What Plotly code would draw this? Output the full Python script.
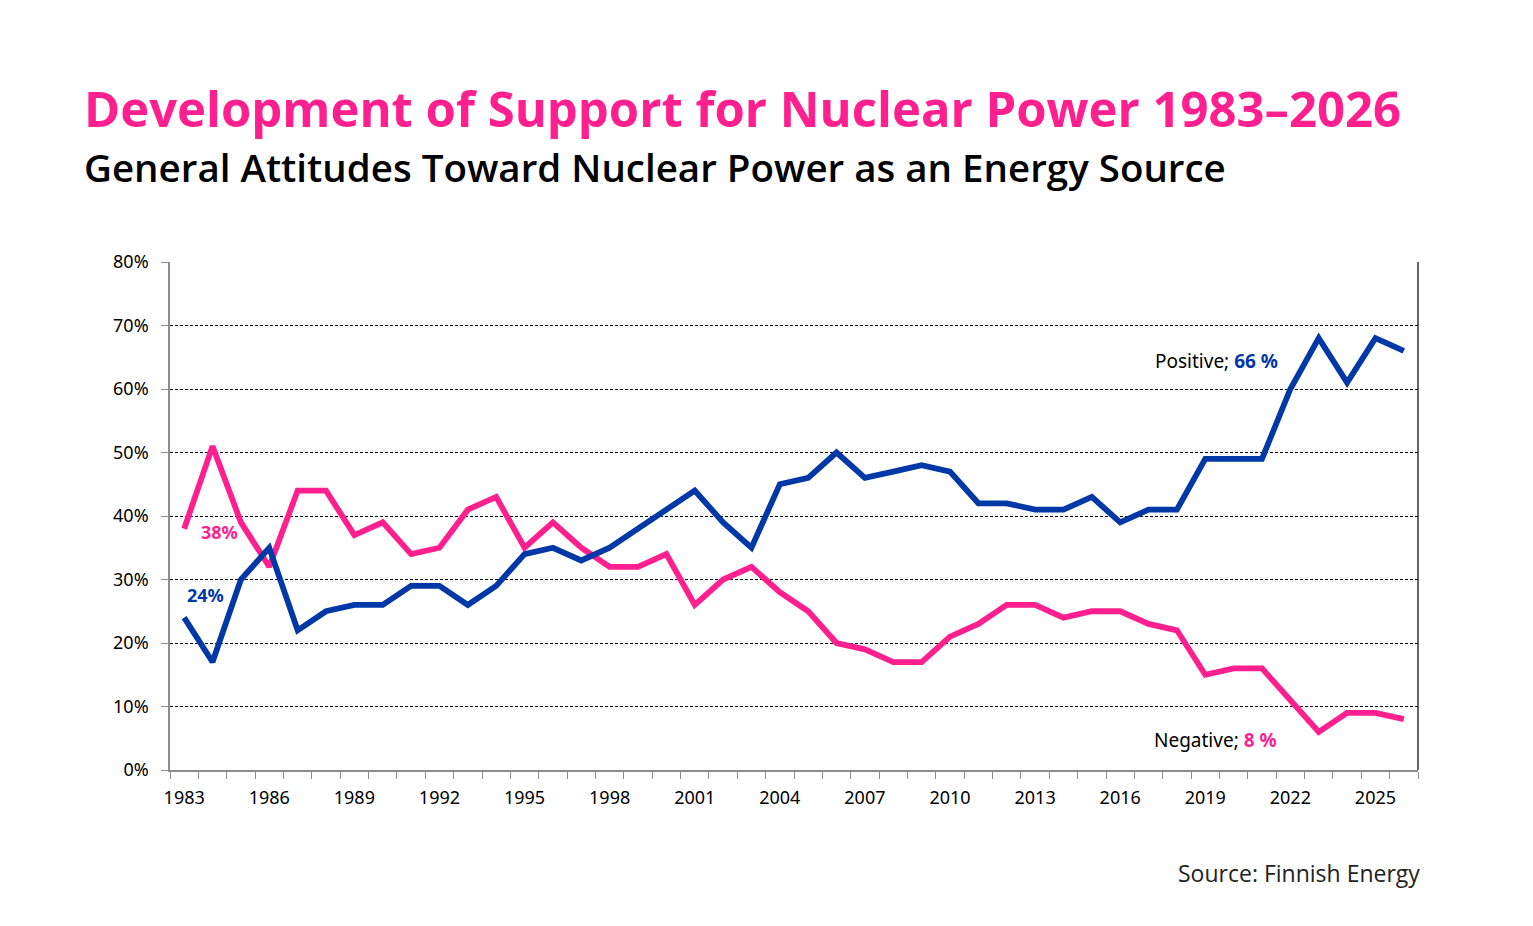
import plotly.graph_objects as go

years = list(range(1983, 2027))
positive = [24, 17, 30, 35, 22, 25, 26, 26, 29, 29, 26, 29, 34, 35, 33, 35, 38, 41, 44, 39,
            35, 45, 46, 50, 46, 47, 48, 47, 42, 42, 41, 41, 43, 39, 41, 41, 49, 49, 49, 60,
            68, 61, 68, 66]
negative = [38, 51, 39, 32, 44, 44, 37, 39, 34, 35, 41, 43, 35, 39, 35, 32, 32, 34, 26, 30,
            32, 28, 25, 20, 19, 17, 17, 21, 23, 26, 26, 24, 25, 25, 23, 22, 15, 16, 16, 11,
            6, 9, 9, 8]
tick_years = list(range(1983, 2027, 3))
y_ticks = [0, 10, 20, 30, 40, 50, 60, 70, 80]

BLUE = "#0038A8"
PINK = "#FF1F8E"
TFONT = "Noto Sans"
HFONT = "Open Sans"

fig = go.Figure()
fig.add_trace(go.Scatter(x=years, y=negative, mode="lines", name="Negative",
                         line=dict(color=PINK, width=5.8)))
fig.add_trace(go.Scatter(x=years, y=positive, mode="lines", name="Positive",
                         line=dict(color=BLUE, width=5.8)))

# page body has an 8px margin, so the figure is 16px smaller than the window
fig.update_layout(
    width=1517, height=910,
    paper_bgcolor="white", plot_bgcolor="white",
    showlegend=False,
    margin=dict(l=162, r=107, t=254, b=148, autoexpand=False),
    font=dict(family=TFONT, size=18, color="black"),
)
fig.update_xaxes(
    range=[1982.5, 2026.5],
    tickmode="array", tickvals=tick_years, ticktext=[str(y) for y in tick_years],
    ticks="", showgrid=False, zeroline=False,
    showline=True, linecolor="#8c8c8c", linewidth=1.5,
    tickfont=dict(family=TFONT, size=18, color="black"),
    ticklabelstandoff=11,
    minor=dict(ticks="outside", tickmode="linear", tick0=1982.5, dtick=1,
               ticklen=7, tickcolor="#8c8c8c", tickwidth=1, showgrid=False),
)
fig.update_yaxes(
    range=[0, 80],
    tickmode="array", tickvals=y_ticks, ticktext=[f"{v}%" for v in y_ticks],
    ticks="outside", ticklen=7, tickcolor="#8c8c8c",
    showgrid=True, gridcolor="black", gridwidth=0.9, griddash="3px,2px",
    zeroline=False, showline=True, linecolor="#8c8c8c", linewidth=1.5,
    tickfont=dict(family=TFONT, size=18, color="black"),
    ticklabelstandoff=9,
)

# right border
fig.add_shape(type="line", xref="paper", yref="paper", x0=1, x1=1, y0=0, y1=1,
              line=dict(color="black", width=1.2))

annotations = [
    dict(text="Development of Support for Nuclear Power 1983–2026", xref="paper", yref="paper",
         x=-0.0705, y=1.303, xanchor="left", yanchor="middle", showarrow=False,
         font=dict(family=HFONT, size=49, color=PINK, weight=700)),
    dict(text="General Attitudes Toward Nuclear Power as an Energy Source", xref="paper", yref="paper",
         x=-0.0705, y=1.187, xanchor="left", yanchor="middle", showarrow=False,
         font=dict(family=HFONT, size=38.5, color="black", weight=600)),
    dict(text="Source: Finnish Energy", xref="paper", yref="paper",
         x=1.003, y=-0.2028, xanchor="right", yanchor="middle", showarrow=False,
         font=dict(family=HFONT, size=23, color="#222222")),
    dict(text="<b>38%</b>", x=1984.23, y=37.5, showarrow=False,
         font=dict(family=TFONT, size=18, color=PINK)),
    dict(text="<b>24%</b>", x=1983.74, y=27.6, showarrow=False,
         font=dict(family=TFONT, size=18, color=BLUE)),
    dict(text=f"Positive; <span style='color:{BLUE}'><b>66 %</b></span>", x=2019.39, y=64.4,
         showarrow=False, font=dict(family=TFONT, size=19, color="black")),
    dict(text=f"Negative; <span style='color:{PINK}'><b>8 %</b></span>", x=2019.35, y=4.7,
         showarrow=False, font=dict(family=TFONT, size=19, color="black")),
]
fig.update_layout(annotations=annotations)

fig.write_html("out.html")
